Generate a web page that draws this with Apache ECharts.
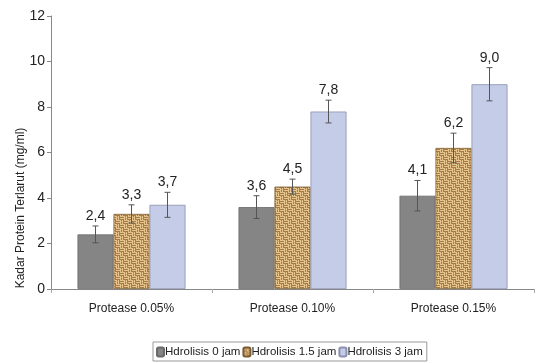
<!DOCTYPE html>
<html>
<head>
<meta charset="utf-8">
<script src="https://cdn.jsdelivr.net/npm/echarts@6/dist/echarts.min.js"></script>
<style>
  html, body { margin: 0; padding: 0; background: #fff; }
  #chart { width: 537px; height: 363px; }
</style>
</head>
<body>
<div id="chart"></div>
<script>
const categories = ["Protease 0.05%", "Protease 0.10%", "Protease 0.15%"];
const seriesNames = ["Hdrolisis 0 jam", "Hdrolisis 1.5 jam", "Hdrolisis 3 jam"];
const jam0 = [2.4, 3.6, 4.1];
const jam15 = [3.3, 4.5, 6.2];
const jam3 = [3.7, 7.8, 9.0];
const err0 = [0.37, 0.5, 0.67];
const err15 = [0.4, 0.33, 0.65];
const err3 = [0.55, 0.5, 0.73];
const yTicks = [0, 2, 4, 6, 8, 10, 12];

const font = "'Liberation Sans', Arial, sans-serif";

// woven burlap texture for the middle series
function makeBurlap() {
    let c = document.createElement("canvas");
    c.width = 8; c.height = 8;
    let ctx = c.getContext("2d");
    ctx.fillStyle = "#a97a42";
    ctx.fillRect(0, 0, 8, 8);
    ctx.fillStyle = "#e4c58f";
    // basket weave: 4x4 blocks alternating horizontal / vertical threads
    for (let by = 0; by < 2; by++) {
        for (let bx = 0; bx < 2; bx++) {
            let ox = bx * 4, oy = by * 4;
            if ((bx + by) % 2 === 0) {
                ctx.fillRect(ox, oy, 4, 1);
                ctx.fillRect(ox, oy + 2, 4, 1);
            } else {
                ctx.fillRect(ox, oy, 1, 4);
                ctx.fillRect(ox + 2, oy, 1, 4);
            }
        }
    }
    ctx.fillStyle = "#d2ac70";
    ctx.fillRect(1, 5, 1, 1); ctx.fillRect(5, 1, 1, 1);
    return c;
}

const colors = ["#858585", { image: makeBurlap(), repeat: "repeat" }, "#c5cce8"];
const borders = ["#6a6a6a", "#7a5a30", "#8a90ad"];
const values = [jam0, jam15, jam3];
const errs = [err0, err15, err3];
const barW = 36;

let series = [];
values.forEach((vals, s) => {
    series.push({
        name: seriesNames[s],
        type: "bar",
        data: vals,
        barWidth: barW,
        barGap: "0%",
        itemStyle: { color: colors[s], borderColor: borders[s], borderWidth: 0.8 }
    });
});
values.forEach((vals, s) => {
    series.push({
        type: "custom",
        z: 10,
        data: vals.map((v, i) => [i, v, errs[s][i]]),
        encode: { x: 0, y: 1 },
        renderItem: function (params, api) {
            let c = api.value(0), v = api.value(1), e = api.value(2);
            let hi = api.coord([c, v + e]);
            let lo = api.coord([c, v - e]);
            let x = hi[0] + (s - 1) * barW;
            let st = { stroke: "#555", lineWidth: 1 };
            return {
                type: "group",
                children: [
                    { type: "line", shape: { x1: x, y1: hi[1], x2: x, y2: lo[1] }, style: st },
                    { type: "line", shape: { x1: x - 3, y1: hi[1], x2: x + 3, y2: hi[1] }, style: st },
                    { type: "line", shape: { x1: x - 3, y1: lo[1], x2: x + 3, y2: lo[1] }, style: st },
                    { type: "text", x: x, y: hi[1] - 3, style: {
                        text: v.toFixed(1).replace(".", ","), fill: "#222", font: "14px " + font,
                        align: "center", verticalAlign: "bottom" } }
                ]
            };
        },
        silent: true
    });
});

const chart = echarts.init(document.getElementById("chart"));
chart.setOption({
    animation: false,
    grid: { left: 51, right: 3, top: 16, bottom: 74 },
    xAxis: {
        type: "category",
        data: categories,
        axisLine: { lineStyle: { color: "#888" } },
        axisTick: { show: true, length: 4, lineStyle: { color: "#aaa" } },
        axisLabel: { color: "#222", fontSize: 12, fontFamily: font, margin: 14 }
    },
    yAxis: {
        type: "value",
        min: 0, max: 12, interval: 2,
        splitLine: { show: false },
        axisLine: { show: true, lineStyle: { color: "#888" } },
        axisTick: { show: true, length: 4, lineStyle: { color: "#888" } },
        axisLabel: { color: "#222", fontSize: 14, fontFamily: font, margin: 6,
            formatter: v => yTicks.includes(v) ? String(v) : "" }
    },
    legend: {
        bottom: 2, left: 153,
        data: seriesNames,
        itemWidth: 7, itemHeight: 9, itemGap: 2,
        borderColor: "#999", borderWidth: 1, padding: [4, 4, 3, 3],
        textStyle: { color: "#222", fontSize: 11.5, fontFamily: font, padding: [0, 0, 0, -4] }
    },
    graphic: [{
        type: "text",
        x: 21, y: 208,
        rotation: Math.PI / 2,
        style: { text: "Kadar Protein Terlarut (mg/ml)", fill: "#222", font: "12px " + font,
            align: "center", verticalAlign: "middle" }
    }],
    series: series
});
</script>
</body>
</html>
